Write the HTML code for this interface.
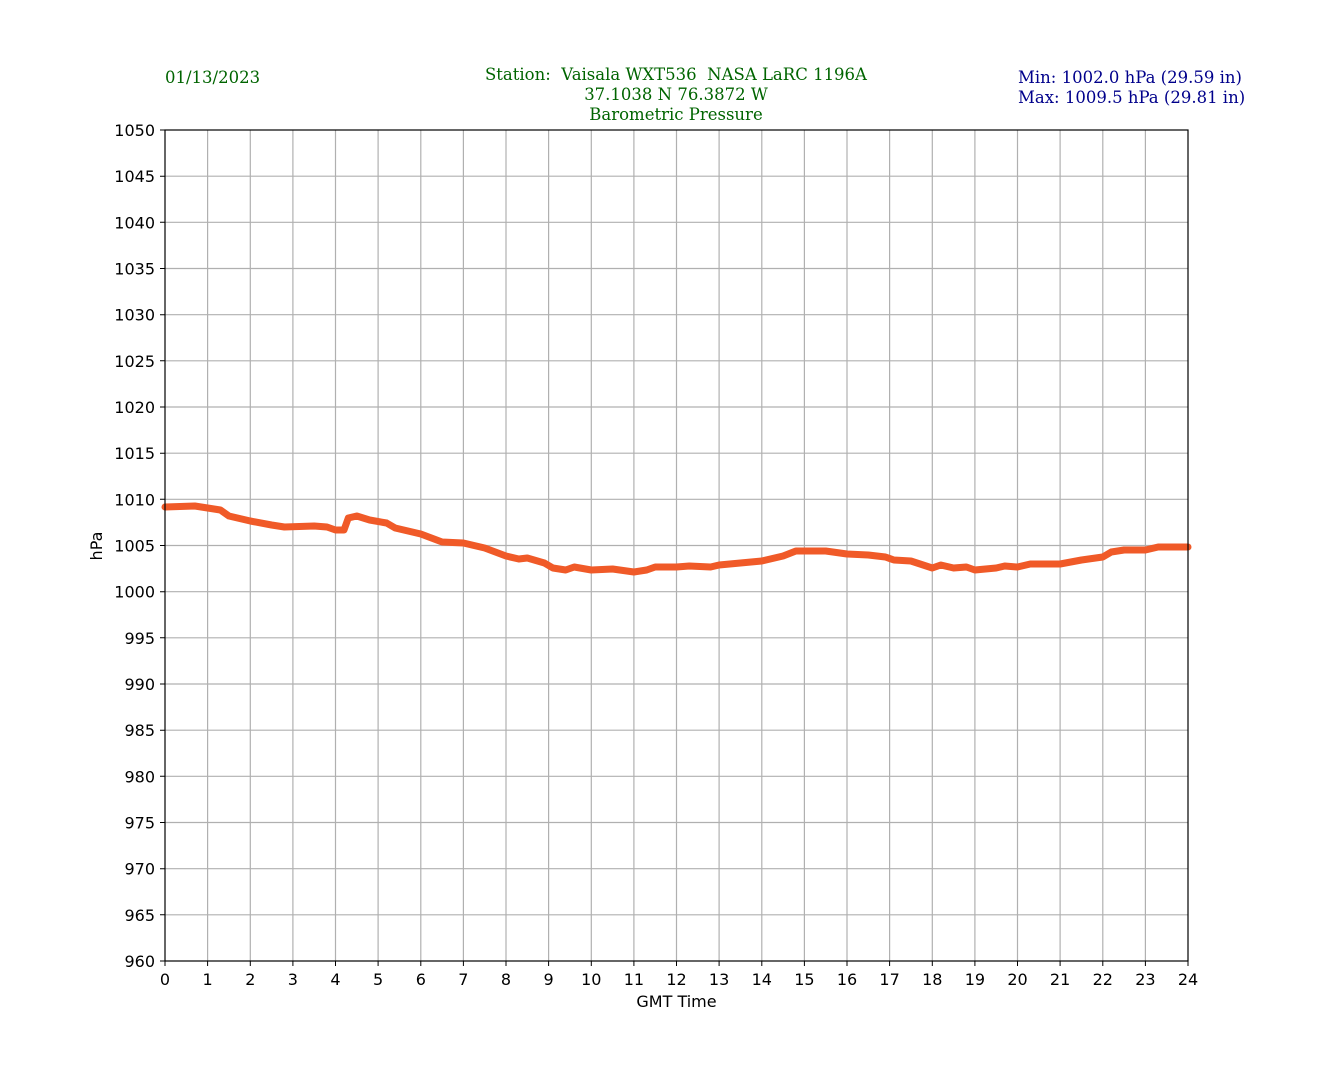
<!DOCTYPE html>
<html><head><meta charset="utf-8"><style>
body{margin:0;background:#fff;}
svg{display:block}
.t{font-family:"DejaVu Sans","Liberation Sans",sans-serif;font-size:16px;fill:#000}
.s{font-family:"DejaVu Serif","Liberation Serif",serif;font-size:16.5px;white-space:pre}
</style></head><body>
<svg width="1320" height="1080" viewBox="0 0 1320 1080" xmlns="http://www.w3.org/2000/svg" xml:space="preserve">
<rect width="1320" height="1080" fill="#fff"/>
<text class="s" x="165" y="83" fill="#006400">01/13/2023</text>
<text class="s" x="676" y="80" fill="#006400" text-anchor="middle">Station:  Vaisala WXT536  NASA LaRC 1196A</text>
<text class="s" x="676" y="100" fill="#006400" text-anchor="middle">37.1038 N 76.3872 W</text>
<text class="s" x="676" y="120" fill="#006400" text-anchor="middle">Barometric Pressure</text>
<text class="s" x="1018" y="83" fill="#00008b">Min: 1002.0 hPa (29.59 in)</text>
<text class="s" x="1018" y="103" fill="#00008b">Max: 1009.5 hPa (29.81 in)</text>
<g stroke="#b0b0b0" stroke-width="1.2">
<line x1="207.6" y1="130" x2="207.6" y2="961"/><line x1="250.3" y1="130" x2="250.3" y2="961"/><line x1="292.9" y1="130" x2="292.9" y2="961"/><line x1="335.5" y1="130" x2="335.5" y2="961"/><line x1="378.1" y1="130" x2="378.1" y2="961"/><line x1="420.8" y1="130" x2="420.8" y2="961"/><line x1="463.4" y1="130" x2="463.4" y2="961"/><line x1="506" y1="130" x2="506" y2="961"/><line x1="548.6" y1="130" x2="548.6" y2="961"/><line x1="591.3" y1="130" x2="591.3" y2="961"/><line x1="633.9" y1="130" x2="633.9" y2="961"/><line x1="676.5" y1="130" x2="676.5" y2="961"/><line x1="719.1" y1="130" x2="719.1" y2="961"/><line x1="761.8" y1="130" x2="761.8" y2="961"/><line x1="804.4" y1="130" x2="804.4" y2="961"/><line x1="847" y1="130" x2="847" y2="961"/><line x1="889.6" y1="130" x2="889.6" y2="961"/><line x1="932.3" y1="130" x2="932.3" y2="961"/><line x1="974.9" y1="130" x2="974.9" y2="961"/><line x1="1017.5" y1="130" x2="1017.5" y2="961"/><line x1="1060.1" y1="130" x2="1060.1" y2="961"/><line x1="1102.8" y1="130" x2="1102.8" y2="961"/><line x1="1145.4" y1="130" x2="1145.4" y2="961"/>
<line x1="165" y1="176.2" x2="1188" y2="176.2"/><line x1="165" y1="222.3" x2="1188" y2="222.3"/><line x1="165" y1="268.5" x2="1188" y2="268.5"/><line x1="165" y1="314.7" x2="1188" y2="314.7"/><line x1="165" y1="360.8" x2="1188" y2="360.8"/><line x1="165" y1="407" x2="1188" y2="407"/><line x1="165" y1="453.2" x2="1188" y2="453.2"/><line x1="165" y1="499.3" x2="1188" y2="499.3"/><line x1="165" y1="545.5" x2="1188" y2="545.5"/><line x1="165" y1="591.7" x2="1188" y2="591.7"/><line x1="165" y1="637.8" x2="1188" y2="637.8"/><line x1="165" y1="684" x2="1188" y2="684"/><line x1="165" y1="730.2" x2="1188" y2="730.2"/><line x1="165" y1="776.3" x2="1188" y2="776.3"/><line x1="165" y1="822.5" x2="1188" y2="822.5"/><line x1="165" y1="868.7" x2="1188" y2="868.7"/><line x1="165" y1="914.8" x2="1188" y2="914.8"/>
</g>
<polyline fill="none" stroke="#f05a28" stroke-width="7" stroke-linejoin="round" stroke-linecap="round" points="165,507 194.8,506 207.6,508 220.4,510 228.9,516 250.3,521 271.6,525 284.4,527 314.2,526 327,527 335.5,530 344,530 348.3,518 356.8,516 369.6,520 386.6,523 395.2,528 420.8,534 442.1,542 463.4,543 484.7,548 506,556 518.8,559 527.3,558 544.4,563 552.9,568 565.7,570 574.2,567 591.3,570 612.6,569 633.9,572 646.7,570 655.2,567 676.5,567 689.3,566 710.6,567 719.1,565 740.4,563 761.8,561 783.1,556 795.9,551 825.7,551 847,554 868.3,555 885.4,557 893.9,560 910.9,561 932.3,568 940.8,565 953.6,568 966.4,567 974.9,570 996.2,568 1004.7,566 1017.5,567 1030.3,564 1060.1,564 1081.5,560 1102.8,557 1111.3,552 1124.1,550 1145.4,550 1158.2,547 1188,547"/>
<rect x="165" y="130" width="1023" height="831" fill="none" stroke="#000" stroke-width="1.2"/>
<g stroke="#000" stroke-width="1">
<path d="M165,961v5M207.6,961v5M250.3,961v5M292.9,961v5M335.5,961v5M378.1,961v5M420.8,961v5M463.4,961v5M506,961v5M548.6,961v5M591.3,961v5M633.9,961v5M676.5,961v5M719.1,961v5M761.8,961v5M804.4,961v5M847,961v5M889.6,961v5M932.3,961v5M974.9,961v5M1017.5,961v5M1060.1,961v5M1102.8,961v5M1145.4,961v5M1188,961v5"/>
<path d="M165,130h-5M165,176.2h-5M165,222.3h-5M165,268.5h-5M165,314.7h-5M165,360.8h-5M165,407h-5M165,453.2h-5M165,499.3h-5M165,545.5h-5M165,591.7h-5M165,637.8h-5M165,684h-5M165,730.2h-5M165,776.3h-5M165,822.5h-5M165,868.7h-5M165,914.8h-5M165,961h-5"/>
</g>
<g class="t" text-anchor="middle">
<text x="165" y="985">0</text><text x="207.6" y="985">1</text><text x="250.3" y="985">2</text><text x="292.9" y="985">3</text><text x="335.5" y="985">4</text><text x="378.1" y="985">5</text><text x="420.8" y="985">6</text><text x="463.4" y="985">7</text><text x="506" y="985">8</text><text x="548.6" y="985">9</text><text x="591.3" y="985">10</text><text x="633.9" y="985">11</text><text x="676.5" y="985">12</text><text x="719.1" y="985">13</text><text x="761.8" y="985">14</text><text x="804.4" y="985">15</text><text x="847" y="985">16</text><text x="889.6" y="985">17</text><text x="932.3" y="985">18</text><text x="974.9" y="985">19</text><text x="1017.5" y="985">20</text><text x="1060.1" y="985">21</text><text x="1102.8" y="985">22</text><text x="1145.4" y="985">23</text><text x="1188" y="985">24</text>
<text x="676.5" y="1007">GMT Time</text>
</g>
<g class="t" text-anchor="end">
<text x="155" y="136">1050</text><text x="155" y="182.2">1045</text><text x="155" y="228.3">1040</text><text x="155" y="274.5">1035</text><text x="155" y="320.7">1030</text><text x="155" y="366.8">1025</text><text x="155" y="413">1020</text><text x="155" y="459.2">1015</text><text x="155" y="505.3">1010</text><text x="155" y="551.5">1005</text><text x="155" y="597.7">1000</text><text x="155" y="643.8">995</text><text x="155" y="690">990</text><text x="155" y="736.2">985</text><text x="155" y="782.3">980</text><text x="155" y="828.5">975</text><text x="155" y="874.7">970</text><text x="155" y="920.8">965</text><text x="155" y="967">960</text>
</g>
<text class="t" x="0" y="0" text-anchor="middle" transform="translate(102,546) rotate(-90)">hPa</text>
</svg>
</body></html>
